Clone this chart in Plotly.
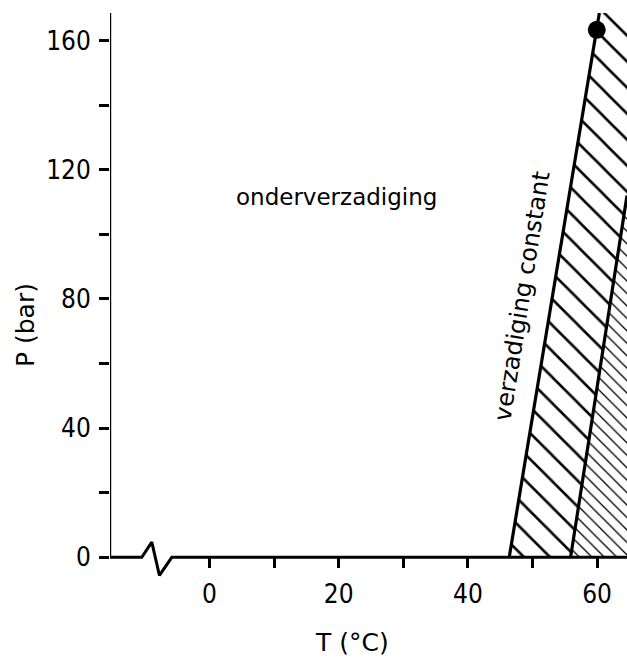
import plotly.graph_objects as go

# Axis ranges (temperature in deg C, pressure in bar)
t_range = [-15.4, 64.63]
p_range = [-9.5, 168.5]

# Ticks
t_ticks = [0, 10, 20, 30, 40, 50, 60]
t_ticktext = ["0", "", "20", "", "40", "", "60"]
p_ticks = [0, 20, 40, 60, 80, 100, 120, 140, 160]
p_ticktext = ["0", "", "40", "", "80", "", "120", "", "160"]

# Saturation boundary (left line) and second boundary (right line)
sat_T = [46.4, 60.35]
sat_P = [0, 168.5]
second_T = [55.9, 64.63]
second_P = [0, 112.0]

# End point marked with a dot
dot_T = [59.95]
dot_P = [163.3]

# x-axis line with a break symbol near the origin
axis_T = [-15.4, -10.48, -8.93, -7.75, -5.83, 64.63]
axis_P = [0, 0, 4.7, -5.6, 0, 0]

label_font = "DejaVu Sans"
tick_font = "Liberation Sans Narrow, DejaVu Sans Condensed, DejaVu Sans"

fig = go.Figure()

# sparse hatch: between the two boundary lines (and up to the top edge)
regA_T = sat_T + [t_range[1], second_T[1], second_T[0]]
regA_P = sat_P + [p_range[1], second_P[1], second_P[0]]
fig.add_trace(go.Scatter(
    x=regA_T, y=regA_P, mode="lines", fill="toself",
    line=dict(width=0, color="rgba(0,0,0,0)"),
    fillcolor="rgba(0,0,0,0)",
    fillpattern=dict(shape="\\", size=18.4, solidity=0.14,
                     fgcolor="black", bgcolor="white", fillmode="replace"),
    hoverinfo="skip", showlegend=False))

# dense hatch: right of the second line
regB_T = second_T + [t_range[1]]
regB_P = second_P + [0]
fig.add_trace(go.Scatter(
    x=regB_T, y=regB_P, mode="lines", fill="toself",
    line=dict(width=0, color="rgba(0,0,0,0)"),
    fillcolor="rgba(0,0,0,0)",
    fillpattern=dict(shape="\\", size=8.8, solidity=0.15,
                     fgcolor="black", bgcolor="white", fillmode="replace"),
    hoverinfo="skip", showlegend=False))

# boundary lines
fig.add_trace(go.Scatter(x=sat_T, y=sat_P, mode="lines",
                         line=dict(color="black", width=3.2),
                         hoverinfo="skip", showlegend=False))
fig.add_trace(go.Scatter(x=second_T, y=second_P, mode="lines",
                         line=dict(color="black", width=3.2),
                         hoverinfo="skip", showlegend=False))
fig.add_trace(go.Scatter(x=dot_T, y=dot_P, mode="markers",
                         marker=dict(color="black", size=18),
                         hoverinfo="skip", showlegend=False, cliponaxis=False))

# axis lines
fig.add_trace(go.Scatter(x=axis_T, y=axis_P, mode="lines",
                         line=dict(color="black", width=3),
                         hoverinfo="skip", showlegend=False))
fig.add_trace(go.Scatter(x=[t_range[0], t_range[0]], y=[0, p_range[1]], mode="lines",
                         line=dict(color="black", width=2.4),
                         hoverinfo="skip", showlegend=False))

fig.add_annotation(x=19.7, y=111.5, text="onderverzadiging", showarrow=False,
                   xanchor="center", yanchor="middle",
                   font=dict(family=label_font, size=23, color="black"))
fig.add_annotation(x=48.3, y=80.7, text="verzadiging constant", showarrow=False,
                   xanchor="center", yanchor="middle",
                   textangle=-81, font=dict(family=label_font, size=24, color="black"))
fig.add_annotation(xref="paper", x=0, xshift=-85, y=71.9, text="P (bar)",
                   showarrow=False, textangle=-90,
                   xanchor="center", yanchor="middle",
                   font=dict(family=label_font, size=25, color="black"))
fig.add_annotation(x=22.1, yref="paper", y=0, yshift=-54, text="T (°C)",
                   showarrow=False, xanchor="center", yanchor="middle",
                   font=dict(family=label_font, size=25, color="black"))

zero_pos = (0 - p_range[0]) / (p_range[1] - p_range[0])

fig.update_layout(
    width=627, height=660,
    margin=dict(l=110, r=0, t=13, b=72),
    paper_bgcolor="white", plot_bgcolor="white",
    xaxis=dict(range=t_range, showgrid=False, zeroline=False, showline=False,
               anchor="free", position=zero_pos,
               tickmode="array", tickvals=t_ticks, ticktext=t_ticktext,
               ticks="outside", ticklen=10, tickwidth=2.5, tickcolor="black",
               ticklabelstandoff=3,
               tickfont=dict(family=tick_font, size=26, color="black")),
    yaxis=dict(range=p_range, showgrid=False, zeroline=False, showline=False,
               tickmode="array", tickvals=p_ticks, ticktext=p_ticktext,
               ticks="outside", ticklen=10, tickwidth=2.5, tickcolor="black",
               ticklabelstandoff=3,
               tickfont=dict(family=tick_font, size=26, color="black")),
)

fig.write_html("out.html")
